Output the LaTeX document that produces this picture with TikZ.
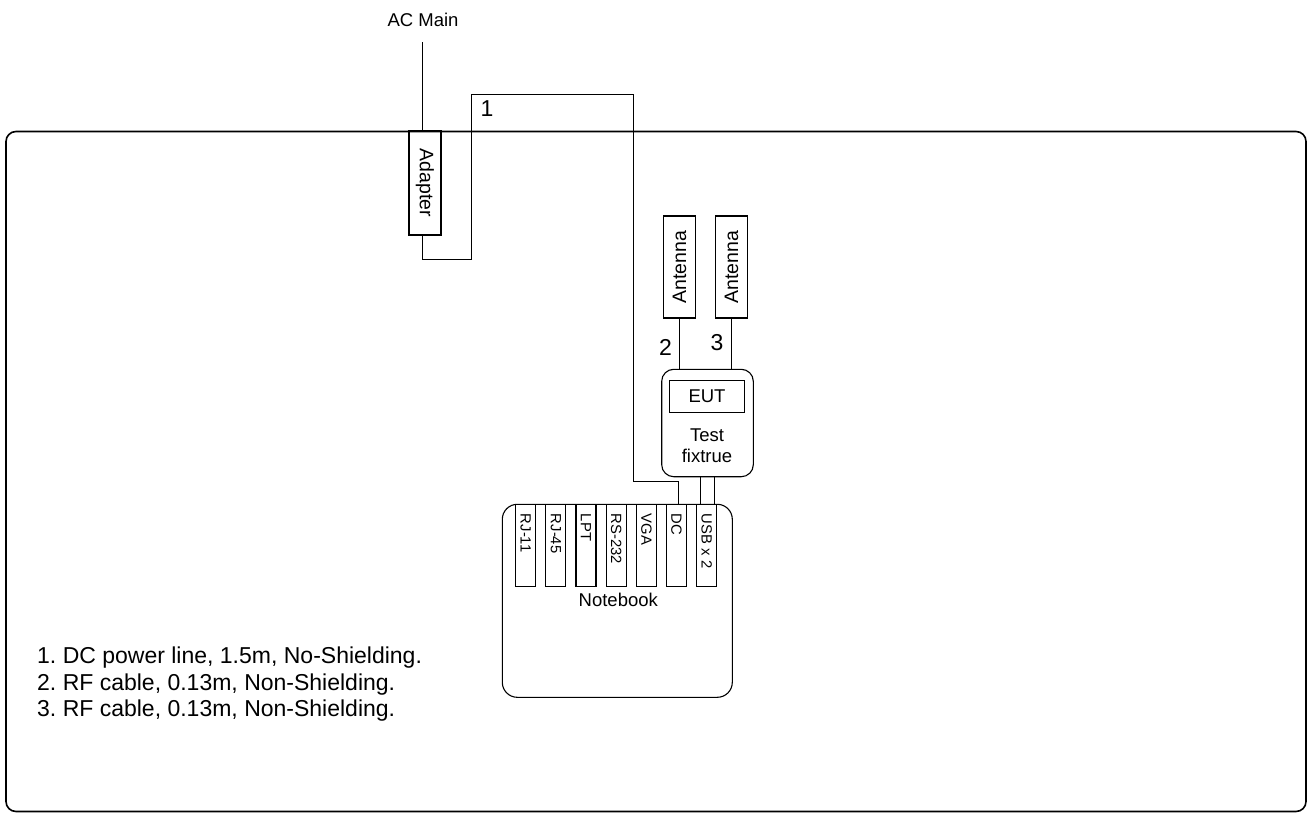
\documentclass[tikz,border=0pt]{standalone}
\usepackage{fontspec}
\setmainfont{Liberation Sans}
\begin{document}
\frenchspacing
\begin{tikzpicture}[x=1pt,y=-1pt,
  boxn/.style={draw, line width=1.1pt, inner sep=0pt},
  wire/.style={line width=0.8pt},
  lbl/.style={inner sep=0pt, font=\fontsize{18.5}{21}\selectfont},
  vlbl/.style={inner sep=0pt, font=\fontsize{19.5}{22}\selectfont},
  big/.style={inner sep=0pt, font=\fontsize{23}{27}\selectfont},
  port/.style={boxn, minimum width=20pt, minimum height=82.4pt},
  ptxt/.style={inner sep=0pt, rotate=-90, anchor=west, font=\fontsize{14.8}{17}\selectfont}]
\useasboundingbox (0,0) rectangle (1311,814);

% room
\node[draw, line width=1.6pt, rounded corners=10pt, minimum width=1300pt, minimum height=680pt] (room) at (656,471.5) {};

% adapter
\node[boxn, minimum width=32pt, minimum height=104pt] (adapter) at (425,183) {};
\node[vlbl, rotate=-90] (adtxt) at (adapter.center) {Adapter};
\node[lbl] (acmain) at (423,20) {AC Main};
\coordinate (acTop) at (422,42);
\draw[wire] (acTop) -- (acTop |- adapter.north);

% antennas
\node[boxn, minimum width=32pt, minimum height=102pt] (ant1) at (679.5,267) {};
\node[vlbl, rotate=90] (ant1txt) at (ant1.center) {Antenna};
\node[boxn, minimum width=32pt, minimum height=102pt] (ant2) at (731.5,267) {};
\node[vlbl, rotate=90] (ant2txt) at (ant2.center) {Antenna};

% test fixture
\node[boxn, rounded corners=12pt, minimum width=91.6pt, minimum height=107.4pt] (fix) at (707.5,423) {};
\node[boxn, minimum width=75.7pt, minimum height=32pt] (eut) at (707,396.7) {};
\node[lbl] (euttxt) at (eut.center) {EUT};
\node[lbl, align=center] (fixtxt) at (707,446) {Test\\fixtrue};

\draw[wire] (ant1.south) -- (ant1.south |- fix.north);
\draw[wire] (ant2.south) -- (ant2.south |- fix.north);
\node[big] (n2) at (665.5,347) {2};
\node[big] (n3) at (717,343) {3};

% notebook
\node[boxn, rounded corners=15pt, minimum width=230pt, minimum height=193pt] (nb) at (617.3,600.8) {};
\node[lbl] (nbtxt) at (618.3,600) {Notebook};
\foreach \i/\nm/\t in {0/rj11/RJ-11, 1/rj45/RJ-45, 2/lpt/LPT, 3/rs/RS-232, 4/vga/VGA, 5/dc/DC, 6/usb/USB x 2} {
  \node[port] (\nm) at ({525.7+30.17*\i},545.5) {};
  \node[ptxt] (\nm txt) at ([yshift=-10pt]\nm.north) {\t};
}

% USB cables
\draw[wire] ([xshift=-6.8pt]fix.south) -- ([xshift=-6.8pt]fix.south |- usb.north);
\draw[wire] ([xshift=6.8pt]fix.south) -- ([xshift=6.8pt]fix.south |- usb.north);

% cable 1
\coordinate (c1a) at (422,259);
\coordinate (c1b) at (471,94);
\coordinate (c1c) at (633,481);
\draw[wire] (adapter.south -| c1a) -- (c1a) -| (c1b) -| (c1c) -| ([xshift=1.6pt]dc.north);
\node[big] (n1) at (487,109) {1};

% legend
\node[big, anchor=base west] (l1) at (37,663.5) {1. DC power line, 1.5m, No-Shielding.};
\node[big, anchor=base west] (l2) at (37,690) {2. RF cable, 0.13m, Non-Shielding.};
\node[big, anchor=base west] (l3) at (37,716.5) {3. RF cable, 0.13m, Non-Shielding.};
\end{tikzpicture}
\end{document}
